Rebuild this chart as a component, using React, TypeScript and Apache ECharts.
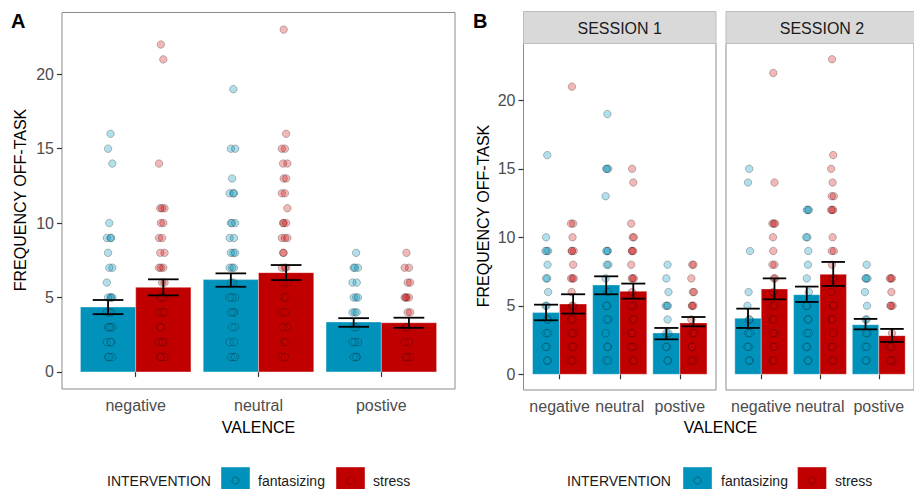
import React, { useEffect, useRef } from "react";
import * as echarts from "echarts";

const CATS = ["negative", "neutral", "postive"];
const Y_TICKS = [0, 5, 10, 15, 20];
const SESSIONS = ["SESSION 1", "SESSION 2"];
const GROUPS = ["fantasizing", "stress"];

// Panel A means and SE bounds
const A_FANT_MEAN = [4.36, 6.2, 3.35];
const A_FANT_LO = [3.88, 5.72, 3.03];
const A_FANT_HI = [4.83, 6.62, 3.61];
const A_STRESS_MEAN = [5.68, 6.67, 3.3];
const A_STRESS_LO = [5.14, 6.17, 2.96];
const A_STRESS_HI = [6.22, 7.18, 3.64];

// Panel B session 1
const S1_FANT_MEAN = [4.5, 6.52, 3.02];
const S1_FANT_LO = [3.94, 5.84, 2.55];
const S1_FANT_HI = [5.08, 7.15, 3.38];
const S1_STRESS_MEAN = [5.13, 6.06, 3.75];
const S1_STRESS_LO = [4.43, 5.52, 3.5];
const S1_STRESS_HI = [5.84, 6.62, 4.18];

// Panel B session 2
const S2_FANT_MEAN = [4.09, 5.81, 3.62];
const S2_FANT_LO = [3.38, 5.28, 3.28];
const S2_FANT_HI = [4.79, 6.4, 4.04];
const S2_STRESS_MEAN = [6.23, 7.3, 2.82];
const S2_STRESS_LO = [5.47, 6.45, 2.36];
const S2_STRESS_HI = [7.0, 8.2, 3.31];

// Individual observations (per valence)
const A_FANT_PTS = [
  [16, 15, 14, 10, 9, 9, 9, 8, 7, 7, 6, 5, 5, 5, 5, 4, 4, 4, 3, 3, 3, 3, 2, 2, 2, 1, 1, 1],
  [19, 15, 15, 13, 12, 12, 12, 10, 10, 10, 9, 9, 8, 8, 8, 7, 7, 7, 6, 6, 5, 5, 5, 4, 4, 4, 3, 3, 2, 2, 1, 1, 1],
  [8, 7, 7, 7, 6, 6, 5, 5, 5, 4, 4, 4, 3, 3, 2, 2, 2, 1, 1, 1],
];
const A_STRESS_PTS = [
  [22, 21, 14, 11, 11, 11, 10, 10, 9, 9, 8, 8, 7, 7, 7, 6, 6, 5, 5, 5, 4, 4, 4, 3, 3, 2, 2, 2, 1, 1, 1],
  [23, 16, 15, 15, 14, 14, 13, 13, 12, 12, 11, 10, 10, 10, 9, 9, 9, 8, 8, 7, 7, 7, 6, 6, 5, 5, 4, 4, 3, 3, 2, 2, 1, 1],
  [8, 7, 7, 6, 6, 5, 5, 5, 5, 4, 4, 3, 3, 2, 2, 1, 1, 1],
];
const S1_FANT_PTS = [
  [16, 10, 9, 9, 9, 8, 7, 7, 6, 5, 5, 4, 4, 3, 3, 2, 2, 1, 1],
  [19, 15, 15, 15, 13, 9, 9, 9, 8, 8, 7, 6, 5, 5, 4, 4, 3, 2, 2, 1, 1],
  [8, 7, 6, 5, 5, 5, 4, 3, 3, 2, 2, 1, 1],
];
const S1_STRESS_PTS = [
  [21, 11, 11, 10, 9, 9, 9, 8, 7, 7, 7, 6, 5, 5, 4, 4, 3, 3, 2, 2, 1, 1],
  [15, 14, 11, 10, 10, 9, 9, 9, 8, 7, 7, 7, 6, 5, 5, 4, 4, 3, 3, 2, 2, 1, 1],
  [8, 8, 7, 6, 6, 5, 5, 5, 4, 3, 3, 2, 2, 1, 1],
];
const S2_FANT_PTS = [
  [15, 14, 9, 6, 5, 4, 4, 3, 3, 2, 2, 1, 1],
  [12, 12, 12, 10, 10, 9, 8, 7, 6, 5, 5, 4, 4, 3, 3, 2, 2, 1, 1],
  [8, 7, 7, 7, 6, 5, 4, 4, 3, 3, 2, 2, 1, 1],
];
const S2_STRESS_PTS = [
  [22, 14, 11, 11, 11, 10, 9, 8, 8, 7, 7, 6, 5, 5, 4, 4, 3, 3, 2, 2, 1, 1],
  [23, 16, 15, 14, 13, 13, 12, 12, 12, 10, 9, 9, 8, 7, 6, 5, 5, 4, 4, 3, 2, 2, 1, 1],
  [7, 7, 7, 6, 5, 5, 5, 3, 2, 2, 1, 1, 1],
];

const JITTER = [0.02, 0.0, 0.035, 0.01, -0.01, 0.025];

const BLUE = "#0092ba";
const RED = "#c00000";
const BLUE_PT = "rgba(0,150,190,0.38)";
const RED_PT = "rgba(210,0,0,0.35)";
const FONT = "Liberation Sans, Arial, sans-serif";

const Y_MIN = -1.15;
const Y_MAX = 24.15;

function buildPanel(
  gi: number,
  fant: { mean: number[]; lo: number[]; hi: number[]; pts: number[][] },
  stress: { mean: number[]; lo: number[]; hi: number[]; pts: number[][] },
  whisker: number
) {
  const series: any[] = [];
  const groups = [
    { g: fant, color: BLUE, pt: BLUE_PT, off: -0.225, dir: 1, name: GROUPS[0] },
    { g: stress, color: RED, pt: RED_PT, off: 0.225, dir: -1, name: GROUPS[1] },
  ];
  groups.forEach((gr) => {
    series.push({
      type: "custom",
      name: gr.name,
      xAxisIndex: gi,
      yAxisIndex: gi,
      z: 1,
      data: gr.g.mean.map((m, i) => [i + 1 + gr.off, m]),
      renderItem: (params: any, api: any) => {
        const x = api.value(0);
        const y = api.value(1);
        const p0 = api.coord([x - 0.225, y]);
        const p1 = api.coord([x + 0.225, 0]);
        return {
          type: "rect",
          shape: { x: p0[0], y: p0[1], width: p1[0] - p0[0], height: p1[1] - p0[1] },
          style: { fill: gr.color, stroke: "rgba(255,255,255,0.35)", lineWidth: 1 },
        };
      },
    });
  });
  groups.forEach((gr) => {
    const data: number[][] = [];
    gr.g.pts.forEach((vals, ci) => {
      vals.forEach((v, k) => {
        data.push([ci + 1 + gr.off + gr.dir * JITTER[k % JITTER.length], v]);
      });
    });
    series.push({
      type: "scatter",
      name: gr.name,
      xAxisIndex: gi,
      yAxisIndex: gi,
      z: 2,
      symbol: "circle",
      symbolSize: 7.5,
      data,
      itemStyle: { color: gr.pt, borderColor: "rgba(0,0,0,0.3)", borderWidth: 1 },
      silent: true,
    });
  });
  groups.forEach((gr) => {
    series.push({
      type: "custom",
      name: gr.name + " se",
      xAxisIndex: gi,
      yAxisIndex: gi,
      z: 3,
      data: gr.g.lo.map((lo, i) => [i + 1 + gr.off, lo, gr.g.hi[i]]),
      renderItem: (params: any, api: any) => {
        const x = api.value(0);
        const lo = api.value(1);
        const hi = api.value(2);
        const pl = api.coord([x, lo]);
        const ph = api.coord([x, hi]);
        const a = api.coord([x - whisker / 2, lo]);
        const b = api.coord([x + whisker / 2, lo]);
        const st = { stroke: "#000", lineWidth: 1.8 };
        return {
          type: "group",
          children: [
            { type: "line", shape: { x1: pl[0], y1: pl[1], x2: ph[0], y2: ph[1] }, style: st },
            { type: "line", shape: { x1: a[0], y1: ph[1], x2: b[0], y2: ph[1] }, style: st },
            { type: "line", shape: { x1: a[0], y1: pl[1], x2: b[0], y2: pl[1] }, style: st },
          ],
        };
      },
    });
  });
  return series;
}

function xAxisFor(gi: number) {
  return {
    type: "value",
    gridIndex: gi,
    min: 0.4,
    max: 3.6,
    axisLine: { show: false },
    splitLine: { show: false },
    axisTick: {
      show: true,
      customValues: [1, 2, 3],
      length: 5,
      lineStyle: { color: "#333", width: 1.2 },
    },
    axisLabel: {
      show: true,
      customValues: [1, 2, 3],
      formatter: (v: number) => CATS[Math.round(v) - 1],
      color: "#4d4d4d",
      fontSize: 16,
      fontFamily: FONT,
      margin: 8,
    },
  };
}

function yAxisFor(gi: number, showLabels: boolean) {
  return {
    type: "value",
    gridIndex: gi,
    min: Y_MIN,
    max: Y_MAX,
    axisLine: { show: false },
    splitLine: { show: false },
    axisTick: {
      show: showLabels,
      customValues: Y_TICKS,
      length: 5,
      lineStyle: { color: "#333", width: 1.2 },
    },
    axisLabel: {
      show: showLabels,
      customValues: Y_TICKS,
      color: "#4d4d4d",
      fontSize: 16,
      fontFamily: FONT,
      margin: 8,
    },
  };
}

function legendGraphics(x0: number, keyB: number, textB: number, keyR: number, textR: number) {
  const yTop = 467;
  const size = 29;
  const cy = 481.5;
  return [
    { type: "text", left: x0, top: cy - 8, style: { text: "INTERVENTION", fontSize: 14, fontFamily: FONT, fill: "#1a1a1a" } },
    { type: "rect", shape: { x: keyB, y: yTop, width: size, height: size }, style: { fill: BLUE, stroke: "rgba(255,255,255,0.4)" } },
    { type: "circle", shape: { cx: keyB + size / 2, cy: cy - 1, r: 3.5 }, style: { fill: BLUE_PT, stroke: "rgba(0,0,0,0.3)" } },
    { type: "text", left: textB, top: cy - 8, style: { text: GROUPS[0], fontSize: 14, fontFamily: FONT, fill: "#1a1a1a" } },
    { type: "rect", shape: { x: keyR, y: yTop, width: size, height: size }, style: { fill: RED, stroke: "rgba(255,255,255,0.4)" } },
    { type: "circle", shape: { cx: keyR + size / 2, cy: cy - 1, r: 3.5 }, style: { fill: RED_PT, stroke: "rgba(0,0,0,0.3)" } },
    { type: "text", left: textR, top: cy - 8, style: { text: GROUPS[1], fontSize: 14, fontFamily: FONT, fill: "#1a1a1a" } },
  ];
}

export default function App() {
  const ref = useRef<HTMLDivElement>(null);
  useEffect(() => {
    if (!ref.current) return;
    const chart = echarts.init(ref.current, undefined, { renderer: "svg" });
    const gridStyle = { show: true, borderColor: "#8c8c8c", borderWidth: 1, backgroundColor: "transparent" };
    const series = [
      ...buildPanel(0, { mean: A_FANT_MEAN, lo: A_FANT_LO, hi: A_FANT_HI, pts: A_FANT_PTS }, { mean: A_STRESS_MEAN, lo: A_STRESS_LO, hi: A_STRESS_HI, pts: A_STRESS_PTS }, 0.25),
      ...buildPanel(1, { mean: S1_FANT_MEAN, lo: S1_FANT_LO, hi: S1_FANT_HI, pts: S1_FANT_PTS }, { mean: S1_STRESS_MEAN, lo: S1_STRESS_LO, hi: S1_STRESS_HI, pts: S1_STRESS_PTS }, 0.4),
      ...buildPanel(2, { mean: S2_FANT_MEAN, lo: S2_FANT_LO, hi: S2_FANT_HI, pts: S2_FANT_PTS }, { mean: S2_STRESS_MEAN, lo: S2_STRESS_LO, hi: S2_STRESS_HI, pts: S2_STRESS_PTS }, 0.4),
    ];
    chart.setOption({
      animation: false,
      backgroundColor: "#ffffff",
      grid: [
        { left: 62, top: 12.5, width: 393, height: 376.5, ...gridStyle },
        { left: 523.5, top: 43.5, width: 192.5, height: 346.5, ...gridStyle },
        { left: 726, top: 43.5, width: 192.5, height: 346.5, ...gridStyle },
      ],
      xAxis: [xAxisFor(0), xAxisFor(1), xAxisFor(2)],
      yAxis: [yAxisFor(0, true), yAxisFor(1, true), yAxisFor(2, false)],
      series,
      graphic: [
        { type: "text", left: 11, top: 11, style: { text: "A", fontSize: 20, fontWeight: "bold", fontFamily: FONT, fill: "#000" } },
        { type: "text", left: 473, top: 11, style: { text: "B", fontSize: 20, fontWeight: "bold", fontFamily: FONT, fill: "#000" } },
        { type: "rect", shape: { x: 523.5, y: 11.5, width: 192.5, height: 32 }, style: { fill: "#d9d9d9", stroke: "#bdbdbd", lineWidth: 1 } },
        { type: "rect", shape: { x: 726, y: 11.5, width: 192.5, height: 32 }, style: { fill: "#d9d9d9", stroke: "#bdbdbd", lineWidth: 1 } },
        { type: "text", x: 619.7, y: 28, style: { text: SESSIONS[0], fontSize: 16, fontFamily: FONT, fill: "#1a1a1a", align: "center", verticalAlign: "middle" } },
        { type: "text", x: 822, y: 28, style: { text: SESSIONS[1], fontSize: 16, fontFamily: FONT, fill: "#1a1a1a", align: "center", verticalAlign: "middle" } },
        { type: "text", x: 20, y: 200, rotation: Math.PI / 2, style: { text: "FREQUENCY OFF-TASK", fontSize: 16, fontFamily: FONT, fill: "#000", align: "center", verticalAlign: "middle" } },
        { type: "text", x: 483, y: 216, rotation: Math.PI / 2, style: { text: "FREQUENCY OFF-TASK", fontSize: 16, fontFamily: FONT, fill: "#000", align: "center", verticalAlign: "middle" } },
        { type: "text", x: 258.5, y: 427, style: { text: "VALENCE", fontSize: 16, fontFamily: FONT, fill: "#000", align: "center", verticalAlign: "middle" } },
        { type: "text", x: 720.5, y: 427, style: { text: "VALENCE", fontSize: 16, fontFamily: FONT, fill: "#000", align: "center", verticalAlign: "middle" } },
        ...legendGraphics(107, 221, 258, 336, 373),
        ...legendGraphics(567, 683, 721, 797.5, 835),
      ],
    });
    return () => chart.dispose();
  }, []);
  return <div ref={ref} style={{ position: "fixed", left: 0, top: 0, width: 914, height: 489 }} />;
}
